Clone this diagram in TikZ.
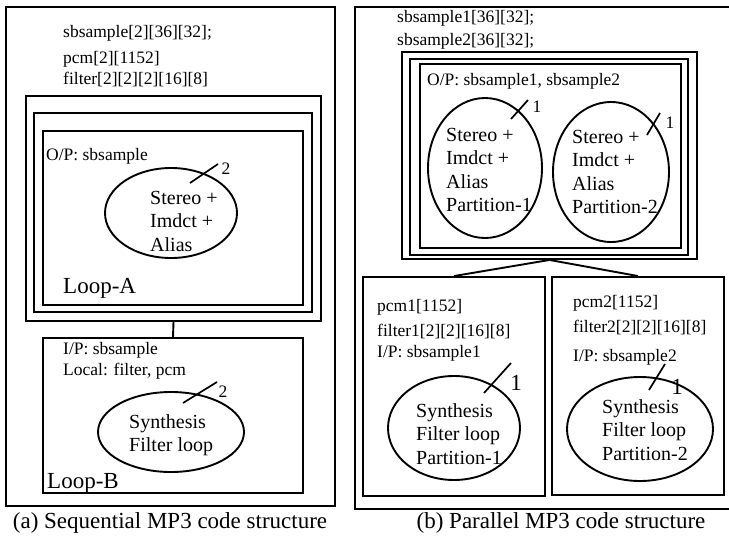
\documentclass[tikz,border=0pt]{standalone}
\usepackage{fontspec}
\setmainfont{Liberation Serif}
\usetikzlibrary{fit,shapes.geometric}
\tikzset{
  box/.style={rectangle,draw=black,line width=1.9pt,inner sep=0pt},
  ell/.style={ellipse,draw=black,line width=1.9pt,inner sep=0pt},
  link/.style={line width=1.9pt},
  lbl/.style={anchor=west,inner sep=0pt,font=\fontsize{17.5}{21}\selectfont},
  etext/.style={anchor=west,inner sep=0pt,align=left,font=\fontsize{20}{23.5}\selectfont},
  looplbl/.style={anchor=west,inner sep=0pt,font=\fontsize{23}{27}\selectfont},
  captxt/.style={inner sep=0pt,font=\fontsize{23}{27}\selectfont},
  % the little slash that marks how often a loop runs
  tick/.style={line width=1.7pt},
  ticklbl/.style={inner sep=0pt,font=\fontsize{17.5}{21}\selectfont},
}
\begin{document}
\begin{tikzpicture}[x=1pt,y=-1pt]
  \useasboundingbox (0,0) rectangle (729,541);
  % ---- (a) sequential ----
  \node[box,fit={(6,7) (335,506)}] (seqOuter) {};
  \node[lbl] (seqSb) at (63,33) {sbsample[2][36][32];};
  \node[lbl] (seqPcm) at (63,59) {pcm[2][1152]};
  \node[lbl] (seqFil) at (63,80) {filter[2][2][2][16][8]};
  \node[box,fit={(26,96) (321,321)}] (loopAo) {};
  \node[box,fit={(34,113) (312,312)}] (loopAm) {};
  \node[box,fit={(43,131) (303,305)}] (loopAi) {};
  \node[lbl] (seqOp) at (46,156) {O/P: sbsample};
  \node[ell,minimum width=132pt,minimum height=90pt] (stereoA) at (171,213) {};
  \node[etext] (stereoAt) at (150,221) {Stereo +\\Imdct +\\Alias};
  \draw[tick] (190,183) -- (218,164);
  \node[ticklbl] (stereoAn) at (226,169) {2};
  \node[looplbl] (loopAl) at (63,288) {Loop-A};
  \node[box,fit={(43,338) (303,493)}] (loopB) {};
  \draw[link] (loopAo.south) -- (loopB.north);
  \node[lbl] (seqIp) at (63,350) {I/P: sbsample};
  \node[lbl] (seqLoc) at (63,371) {Local: filter, pcm};
  \node[ell,minimum width=146pt,minimum height=80pt] (synthA) at (171,432) {};
  \node[etext] (synthAt) at (129,435) {Synthesis\\Filter loop};
  \draw[tick] (183,403) -- (217,382);
  \node[ticklbl] (synthAn) at (223,392) {2};
  \node[looplbl] (loopBl) at (47,483) {Loop-B};
  \node[captxt] (capA) at (170,523) {(a) Sequential MP3 code structure};
  % ---- (b) parallel ----
  \node[box,fit={(355,7) (735,509)}] (parOuter) {};
  \node[lbl] (parSb1) at (397,18) {sbsample1[36][32];};
  \node[lbl] (parSb2) at (397,41) {sbsample2[36][32];};
  \node[box,fit={(402,52) (697,259)}] (loopPo) {};
  \node[box,fit={(410,59) (688,255)}] (loopPm) {};
  \node[box,fit={(420,64) (681,248)}] (loopPi) {};
  \node[lbl] (parOp) at (427,81) {O/P: sbsample1, sbsample2};
  \node[ell,minimum width=114pt,minimum height=140pt] (stereo1) at (485,168) {};
  \node[etext] (stereo1t) at (446,170) {Stereo +\\Imdct +\\Alias\\Partition-1};
  \draw[tick] (511,119) -- (528,100);
  \node[ticklbl] (stereo1n) at (537,107) {1};
  \node[ell,minimum width=116pt,minimum height=140pt] (stereo2) at (611,172) {};
  \node[etext] (stereo2t) at (572,172) {Stereo +\\Imdct +\\Alias\\Partition-2};
  \draw[tick] (647,135) -- (660,113);
  \node[ticklbl] (stereo2n) at (670,123) {1};
  \node[box,fit={(363,277) (545,496)}] (partB1) {};
  \node[box,fit={(552,277) (724,495)}] (partB2) {};
  \draw[link] (loopPo.south) -- (partB1.north);
  \draw[link] (loopPo.south) -- (partB2.north);
  \node[lbl] (pcm1) at (377,307) {pcm1[1152]};
  \node[lbl] (fil1) at (377,332) {filter1[2][2][16][8]};
  \node[lbl] (ip1) at (377,353) {I/P: sbsample1};
  \node[ell,minimum width=132pt,minimum height=104pt] (synth1) at (454,428) {};
  \node[etext] (synth1t) at (416,434) {Synthesis\\Filter loop\\Partition-1};
  \draw[tick] (484,393) -- (511,363);
  \node[captxt] (synth1n) at (516,383) {1};
  \node[lbl] (pcm2) at (573,303) {pcm2[1152]};
  \node[lbl] (fil2) at (573,328) {filter2[2][2][16][8]};
  \node[lbl] (ip2) at (573,357) {I/P: sbsample2};
  \node[ell,minimum width=146pt,minimum height=104pt] (synth2) at (640,429) {};
  \node[etext] (synth2t) at (602,430) {Synthesis\\Filter loop\\Partition-2};
  \draw[tick] (649,390) -- (665,364);
  \node[captxt] (synth2n) at (677,387) {1};
  \node[captxt] (capB) at (561,523) {(b) Parallel MP3 code structure};
\end{tikzpicture}
\end{document}
